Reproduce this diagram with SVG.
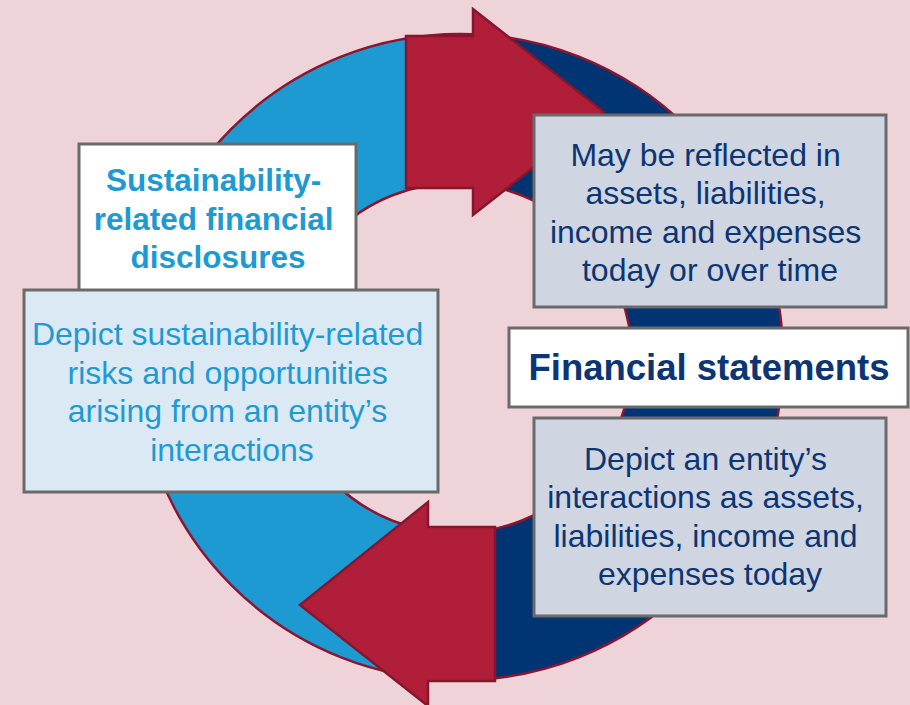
<svg xmlns="http://www.w3.org/2000/svg" width="910" height="705" viewBox="0 0 910 705">
  <style>
    .ring-line { stroke: #8A1631; stroke-width: 2.5; }
    .arrow { fill: #B01E39; stroke: #86162E; stroke-width: 2.5; stroke-linejoin: miter; }
    .box { stroke: #6A6A6A; stroke-width: 3; }
    .t { font-family: "Liberation Sans", Arial, sans-serif; text-anchor: middle; }
    .body { font-size: 32px; }
    .blue { fill: #1E9AD3; }
    .navy { fill: #0B3574; }
  </style>
  <defs>
    <clipPath id="rightHalf">
      <rect x="450" y="0" width="460" height="705"/>
    </clipPath>
    <path id="ringShape" fill-rule="evenodd"
      d="M 137 357 A 323 323 0 1 0 783 357 A 323 323 0 1 0 137 357 Z
         M 282 358 A 175 175 0 1 1 632 358 A 175 175 0 1 1 282 358 Z"/>
  </defs>

  <rect width="910" height="705" fill="#EED3D8"/>

  <g id="cycle-ring">
    <use href="#ringShape" fill="#1E9AD3"/>
    <use href="#ringShape" fill="#003473" clip-path="url(#rightHalf)"/>
    <g fill="none" class="ring-line">
      <circle cx="460" cy="357" r="323"/>
      <circle cx="457" cy="358" r="175"/>
    </g>
  </g>

  <g id="connectors">
    <!-- upper arrow: disclosures to statements -->
    <polygon class="arrow" points="406,36 473,36 473,9 604,112 473,215 473,188 406,188"/>
    <!-- lower arrow: statements back to disclosures -->
    <polygon class="arrow" points="495,527 428,527 428,502 300,605 428,706 428,681 495,681"/>
  </g>

  <g id="node-sfd-title">
    <rect class="box" x="79" y="144" width="277" height="150" fill="#FFFFFF"/>
    <text class="t blue" font-size="31.5" font-weight="bold">
      <tspan x="218" y="191">Sustainability-</tspan>
      <tspan x="218" y="230">related financial</tspan>
      <tspan x="218" y="268">disclosures</tspan>
    </text>
  </g>

  <g id="node-sfd-desc">
    <rect class="box" x="24" y="290" width="414" height="202" fill="#DAE9F4"/>
    <text class="t blue body">
      <tspan x="232" y="345">Depict sustainability-related</tspan>
      <tspan x="232" y="384">risks and opportunities</tspan>
      <tspan x="232" y="422">arising from an entity’s</tspan>
      <tspan x="232" y="461">interactions</tspan>
    </text>
  </g>

  <g id="node-fs-future">
    <rect class="box" x="534" y="115" width="352" height="192" fill="#CFD5E1"/>
    <text class="t navy body">
      <tspan x="710" y="166">May be reflected in</tspan>
      <tspan x="710" y="204">assets, liabilities,</tspan>
      <tspan x="710" y="243">income and expenses</tspan>
      <tspan x="710" y="281">today or over time</tspan>
    </text>
  </g>

  <g id="node-fs-title">
    <rect class="box" x="509" y="328" width="399" height="79" fill="#FFFFFF"/>
    <text class="t navy" x="709" y="380" font-size="36.5" font-weight="bold">Financial statements</text>
  </g>

  <g id="node-fs-today">
    <rect class="box" x="534" y="418" width="352" height="198" fill="#CFD5E1"/>
    <text class="t navy body">
      <tspan x="710" y="470">Depict an entity’s</tspan>
      <tspan x="710" y="508">interactions as assets,</tspan>
      <tspan x="710" y="547">liabilities, income and</tspan>
      <tspan x="710" y="585">expenses today</tspan>
    </text>
  </g>
</svg>
